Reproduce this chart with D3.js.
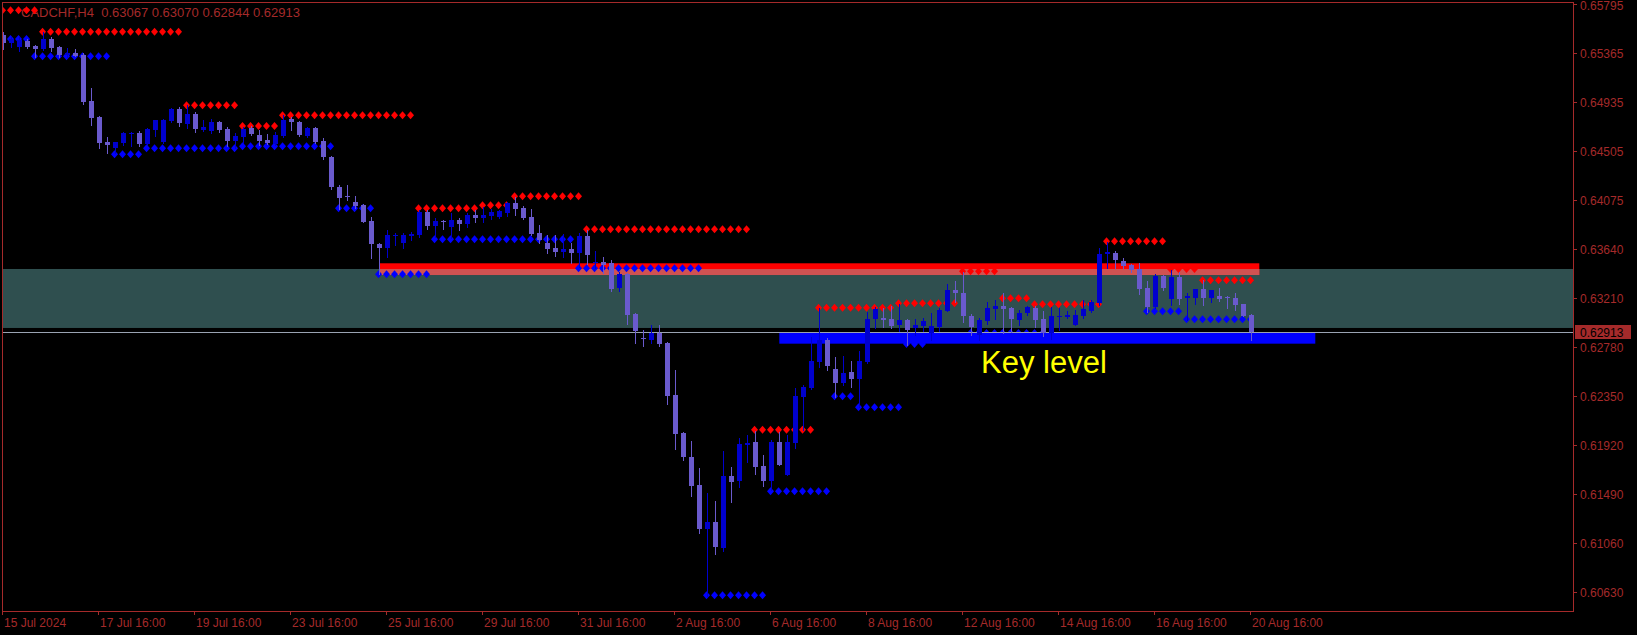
<!DOCTYPE html>
<html><head><meta charset="utf-8">
<script src="https://cdn.jsdelivr.net/npm/d3@7"></script>
<style>html,body{margin:0;padding:0;background:#000;overflow:hidden}</style>
</head><body>
<svg id="c" width="1637" height="635"></svg>
<script>
// ---------- data ----------
const symbolTitle = "CADCHF,H4";
const lastOHLC = [0.63067, 0.63070, 0.62844, 0.62913];
const xTickLabels = ["15 Jul 2024","17 Jul 16:00","19 Jul 16:00","23 Jul 16:00","25 Jul 16:00","29 Jul 16:00","31 Jul 16:00","2 Aug 16:00","6 Aug 16:00","8 Aug 16:00","12 Aug 16:00","14 Aug 16:00","16 Aug 16:00","20 Aug 16:00"];
const barsPerXTick = 12;
const yTickValues = [0.65795,0.65365,0.64935,0.64505,0.64075,0.63640,0.63210,0.62780,0.62350,0.61920,0.61490,0.61060,0.60630];

const open = [0.65523,0.65452,0.65420,0.65473,0.65426,0.65400,0.65488,0.65417,0.65347,0.65367,
0.65347,0.64943,0.64803,0.64586,0.64528,0.64572,0.64658,0.64665,0.64566,0.64689,
0.64581,0.64770,0.64873,0.64741,0.64829,0.64689,0.64682,0.64756,0.64697,0.64592,
0.64630,0.64709,0.64645,0.64601,0.64568,0.64636,0.64785,0.64759,0.64639,0.64706,
0.64595,0.64454,0.64191,0.64109,0.64056,0.64030,0.63890,0.63688,0.63655,0.63762,
0.63699,0.63761,0.63767,0.63971,0.63846,0.63892,0.63834,0.63898,0.63863,0.63942,
0.63919,0.63936,0.63922,0.63963,0.64050,0.64006,0.63927,0.63787,0.63699,0.63650,
0.63620,0.63644,0.63611,0.63758,0.63521,0.63532,0.63518,0.63304,0.63424,0.63073,
0.62862,0.62845,0.62902,0.62821,0.62362,0.62031,0.61820,0.61572,0.61183,0.61250,
0.61016,0.61653,0.61607,0.61923,0.61952,0.61741,0.61607,0.61952,0.61660,0.61943,
0.62347,0.62426,0.62654,0.62845,0.62590,0.62465,0.62567,0.62502,0.62654,0.63029,
0.63034,0.63029,0.62977,0.63020,0.62948,0.62968,0.62904,0.62962,0.63102,0.63284,
0.63255,0.63056,0.62889,0.63014,0.63117,0.63143,0.63128,0.63020,0.63085,0.63128,
0.63029,0.62904,0.63053,0.63049,0.62977,0.63058,0.63102,0.63170,0.63597,0.63609,
0.63538,0.63503,0.63468,0.63299,0.63137,0.63407,0.63205,0.63395,0.63211,0.63211,
0.63293,0.63211,0.63234,0.63225,0.63216,0.63161,0.63067];
const high = [0.65549,0.65514,0.65508,0.65485,0.65431,0.65552,0.65503,0.65426,0.65406,0.65397,
0.65362,0.65055,0.64812,0.64627,0.64583,0.64671,0.64674,0.64680,0.64709,0.64776,
0.64785,0.64884,0.64891,0.64908,0.64844,0.64774,0.64785,0.64768,0.64715,0.64660,
0.64718,0.64724,0.64689,0.64656,0.64674,0.64820,0.64805,0.64768,0.64718,0.64718,
0.64618,0.64460,0.64206,0.64206,0.64109,0.64035,0.63925,0.63699,0.63811,0.63782,
0.63780,0.63796,0.63986,0.63986,0.63913,0.63898,0.63963,0.63913,0.63963,0.63986,
0.64010,0.63992,0.63986,0.64059,0.64098,0.64021,0.63995,0.63855,0.63767,0.63767,
0.63776,0.63699,0.63782,0.63811,0.63626,0.63571,0.63547,0.63445,0.63430,0.63079,
0.62933,0.62977,0.62977,0.62830,0.62581,0.62040,0.61961,0.61718,0.61499,0.61431,
0.61870,0.61732,0.61987,0.62011,0.62049,0.61835,0.61967,0.62040,0.62011,0.62421,
0.62450,0.62874,0.63123,0.62860,0.62693,0.62704,0.62660,0.62748,0.63088,0.63137,
0.63123,0.63143,0.63158,0.63029,0.63029,0.63035,0.63079,0.63123,0.63337,0.63363,
0.63445,0.63070,0.63035,0.63181,0.63196,0.63260,0.63137,0.63108,0.63143,0.63143,
0.63099,0.63132,0.63123,0.63099,0.63108,0.63196,0.63196,0.63650,0.63708,0.63626,
0.63562,0.63512,0.63518,0.63363,0.63424,0.63411,0.63459,0.63445,0.63255,0.63293,
0.63372,0.63284,0.63299,0.63234,0.63255,0.63161,0.63070];
const low = [0.65404,0.65420,0.65385,0.65406,0.65332,0.65395,0.65385,0.65332,0.65332,0.65338,
0.64917,0.64733,0.64533,0.64489,0.64484,0.64557,0.64551,0.64551,0.64557,0.64636,
0.64572,0.64762,0.64726,0.64704,0.64674,0.64684,0.64665,0.64674,0.64551,0.64533,
0.64572,0.64645,0.64557,0.64563,0.64557,0.64630,0.64689,0.64636,0.64627,0.64575,
0.64434,0.64168,0.63995,0.64074,0.64008,0.63881,0.63567,0.63422,0.63574,0.63679,
0.63655,0.63723,0.63752,0.63819,0.63752,0.63819,0.63738,0.63811,0.63834,0.63878,
0.63883,0.63907,0.63919,0.63936,0.63942,0.63907,0.63767,0.63699,0.63611,0.63582,
0.63571,0.63518,0.63488,0.63512,0.63474,0.63430,0.63278,0.63278,0.62985,0.62821,
0.62792,0.62821,0.62792,0.62283,0.61888,0.61791,0.61475,0.61153,0.60597,0.60966,
0.60995,0.61425,0.61557,0.61771,0.61668,0.61563,0.61528,0.61743,0.61655,0.61894,
0.62055,0.62412,0.62610,0.62581,0.62342,0.62450,0.62435,0.62254,0.62640,0.62950,
0.62962,0.62953,0.62924,0.62801,0.62889,0.62924,0.62845,0.62924,0.63095,0.63181,
0.63000,0.62889,0.62845,0.62985,0.63027,0.62909,0.62915,0.62977,0.63064,0.62962,
0.62880,0.62851,0.62933,0.63035,0.62972,0.63035,0.63093,0.63152,0.63480,0.63480,
0.63474,0.63445,0.63246,0.63088,0.63123,0.63281,0.63152,0.63158,0.63020,0.63158,
0.63152,0.63181,0.63187,0.63123,0.63108,0.63056,0.62844];
const close = [0.65457,0.65488,0.65479,0.65420,0.65402,0.65488,0.65411,0.65347,0.65362,0.65341,
0.64937,0.64797,0.64577,0.64557,0.64583,0.64665,0.64662,0.64563,0.64697,0.64776,
0.64776,0.64873,0.64753,0.64829,0.64697,0.64712,0.64756,0.64691,0.64592,0.64636,
0.64700,0.64656,0.64592,0.64577,0.64645,0.64776,0.64756,0.64645,0.64706,0.64583,
0.64454,0.64191,0.64094,0.64100,0.64023,0.63883,0.63688,0.63655,0.63767,0.63767,
0.63767,0.63776,0.63971,0.63848,0.63890,0.63887,0.63898,0.63863,0.63942,0.63919,
0.63942,0.63971,0.63977,0.64050,0.63995,0.63919,0.63776,0.63723,0.63644,0.63620,
0.63644,0.63611,0.63761,0.63591,0.63530,0.63503,0.63293,0.63424,0.63064,0.62924,
0.62849,0.62902,0.62810,0.62353,0.62020,0.61820,0.61563,0.61183,0.61250,0.61030,
0.61653,0.61601,0.61932,0.61943,0.61732,0.61607,0.61952,0.61747,0.61952,0.62353,
0.62430,0.62660,0.62845,0.62619,0.62465,0.62558,0.62502,0.62660,0.63029,0.63113,
0.63020,0.62970,0.63020,0.62933,0.62977,0.63012,0.62968,0.63108,0.63284,0.63260,
0.63058,0.62962,0.63020,0.63123,0.63143,0.63117,0.63029,0.63085,0.63132,0.63020,
0.62904,0.63058,0.63058,0.63064,0.63064,0.63117,0.63178,0.63600,0.63615,0.63550,
0.63494,0.63457,0.63293,0.63137,0.63407,0.63304,0.63395,0.63205,0.63231,0.63293,
0.63211,0.63284,0.63205,0.63222,0.63152,0.63058,0.62913];

// [first bar, last bar, price]
const resistanceSegs = [[0,4,0.65740],[5,22,0.65552],[23,29,0.64906],[30,34,0.64724],[35,51,0.64818],[52,59,0.64001],[60,63,0.64028],[64,72,0.64107],[73,93,0.63817],[94,101,0.62055],[102,111,0.63128],[112,119,0.63167],[120,124,0.63448],[125,128,0.63211],[129,137,0.63158],[138,145,0.63711],[146,149,0.63468],[150,156,0.63369]];
const supportSegs = [[1,3,0.65488],[4,13,0.65336],[14,17,0.64475],[18,29,0.64528],[30,41,0.64546],[42,46,0.64001],[47,53,0.63422],[54,71,0.63729],[72,87,0.63474],[88,95,0.60603],[96,103,0.61516],[104,106,0.62351],[107,112,0.62254],[113,115,0.62810],[121,130,0.62906],[143,147,0.63097],[148,156,0.63027]];

const zoneRange = [0.63468, 0.62950];            // top, bottom price
const redBox = [47, 157, 0.63518, 0.63415];       // from bar, to bar, top, bottom
const blueBox = [97, 164, 0.62909, 0.62812];
const keyLabel = "Key level";

// ---------- drawing ----------
const W = 1637, H = 635;
const plot = {l: 2, t: 2, r: 1573, b: 611};
const FG = "#A52A2A";
const FONT = "'Liberation Sans', Arial, sans-serif";
const BULL = "#0000CD", BEAR = "#6A5ACD";

const svg = d3.select("#c");
svg.append("rect").attr("width", W).attr("height", H).attr("fill", "#000");

const x = d3.scaleLinear().domain([0, open.length - 1]).range([3.3, 1251.3]);
const y = d3.scaleLinear().domain([yTickValues[yTickValues.length - 1], yTickValues[0]]).range([592.1, 4.05]);

svg.append("defs").append("clipPath").attr("id", "clip")
  .append("rect").attr("x", plot.l + 1).attr("y", plot.t + 1)
  .attr("width", plot.r - plot.l - 1).attr("height", plot.b - plot.t - 1);
const g = svg.append("g").attr("clip-path", "url(#clip)");

// zone
const zy0 = y(zoneRange[0]), zy1 = y(zoneRange[1]);
g.append("rect").attr("x", plot.l).attr("width", plot.r - plot.l)
  .attr("y", zy0).attr("height", zy1 - zy0).attr("fill", "#2F4F4F");

// red rectangle (lighter where it overlaps the zone)
const rx0 = x(redBox[0]), rx1 = x(redBox[1]), ry0 = y(redBox[2]), ry1 = y(redBox[3]);
g.append("rect").attr("x", rx0).attr("width", rx1 - rx0).attr("y", ry0).attr("height", ry1 - ry0).attr("fill", "#FF0000");
const oy0 = Math.max(ry0, zy0), oy1 = Math.min(ry1, zy1);
if (oy1 > oy0) g.append("rect").attr("x", rx0).attr("width", rx1 - rx0).attr("y", oy0).attr("height", oy1 - oy0).attr("fill", "#D05252");

// title
g.append("text").attr("x", 21).attr("y", 17).attr("fill", FG)
  .style("font-family", FONT).style("font-size", "13px").style("white-space", "pre")
  .text(symbolTitle + "  " + lastOHLC.map(v => v.toFixed(5)).join(" "));

// diamonds
const expand = segs => segs.flatMap(([a, b, p]) => d3.range(a, b + 1).map(k => ({k, p})));
const diamond = "M0,-4L3.5,0L0,4L-3.5,0Z";
g.append("g").selectAll("path").data(expand(resistanceSegs)).join("path")
  .attr("d", diamond).attr("fill", "#FF0000")
  .attr("transform", d => `translate(${Math.round(x(d.k)) - 0.5},${y(d.p)})`);
g.append("g").selectAll("path").data(expand(supportSegs)).join("path")
  .attr("d", diamond).attr("fill", "#0000FF")
  .attr("transform", d => `translate(${Math.round(x(d.k)) - 0.5},${y(d.p)})`);

// blue rectangle
const bx0 = x(blueBox[0]), bx1 = x(blueBox[1]);
g.append("rect").attr("x", bx0).attr("width", bx1 - bx0).attr("y", y(blueBox[2]))
  .attr("height", y(blueBox[3]) - y(blueBox[2])).attr("fill", "#0000FF");

// price line
const py = Math.round(y(lastOHLC[3])) + 0.5;
g.append("line").attr("x1", plot.l).attr("x2", plot.r).attr("y1", py).attr("y2", py)
  .attr("stroke", "#9AA3B2").attr("stroke-width", 1);

// candles
const bars = d3.range(open.length).map(i => ({i, o: open[i], h: high[i], l: low[i], c: close[i]}));
const cg = g.append("g").attr("shape-rendering", "crispEdges");
const cs = cg.selectAll("g").data(bars).join("g")
  .attr("fill", d => d.c >= d.o ? BULL : BEAR);
cs.append("rect")
  .attr("x", d => Math.round(x(d.i))).attr("width", 1)
  .attr("y", d => Math.round(y(d.h)))
  .attr("height", d => Math.max(1, Math.round(y(d.l)) - Math.round(y(d.h)) + 1));
cs.append("rect")
  .attr("x", d => Math.round(x(d.i)) - 2).attr("width", 5)
  .attr("y", d => Math.round(y(Math.max(d.o, d.c))))
  .attr("height", d => Math.max(1, Math.round(y(Math.min(d.o, d.c))) - Math.round(y(Math.max(d.o, d.c)))));

// key level label
g.append("text").attr("x", 981).attr("y", 373).attr("fill", "#FFFF00")
  .style("font-family", FONT).style("font-size", "31px").text(keyLabel);

// frame
svg.append("rect").attr("x", plot.l + 0.5).attr("y", plot.t + 0.5)
  .attr("width", plot.r - plot.l).attr("height", plot.b - plot.t)
  .attr("fill", "none").attr("stroke", FG).attr("stroke-width", 1);

// y axis
const ya = svg.append("g").attr("shape-rendering", "crispEdges");
yTickValues.forEach(v => {
  const yy = Math.round(y(v)) + 0.5;
  ya.append("line").attr("x1", plot.r).attr("x2", plot.r + 4).attr("y1", yy).attr("y2", yy).attr("stroke", FG);
  ya.append("text").attr("x", plot.r + 7).attr("y", Math.max(yy + 4, 10)).attr("fill", FG)
    .style("font-family", FONT).style("font-size", "12px").text(v.toFixed(5));
});
// current price tag
const tagY = y(lastOHLC[3]);
svg.append("rect").attr("x", plot.r + 2).attr("y", Math.round(tagY) - 7).attr("width", 56).attr("height", 14).attr("fill", FG);
svg.append("text").attr("x", plot.r + 7).attr("y", Math.round(tagY) + 4.5).attr("fill", "#000")
  .style("font-family", FONT).style("font-size", "12px").text(lastOHLC[3].toFixed(5));

// x axis
const xa = svg.append("g").attr("shape-rendering", "crispEdges");
xTickLabels.forEach((lab, i) => {
  const xx = Math.round(x(i * barsPerXTick)) - 0.5;
  xa.append("line").attr("x1", xx).attr("x2", xx).attr("y1", plot.b).attr("y2", plot.b + 4).attr("stroke", FG);
  xa.append("text").attr("x", xx + 1.5).attr("y", 627).attr("fill", FG)
    .style("font-family", FONT).style("font-size", "12px").text(lab);
});
</script>
</body></html>
